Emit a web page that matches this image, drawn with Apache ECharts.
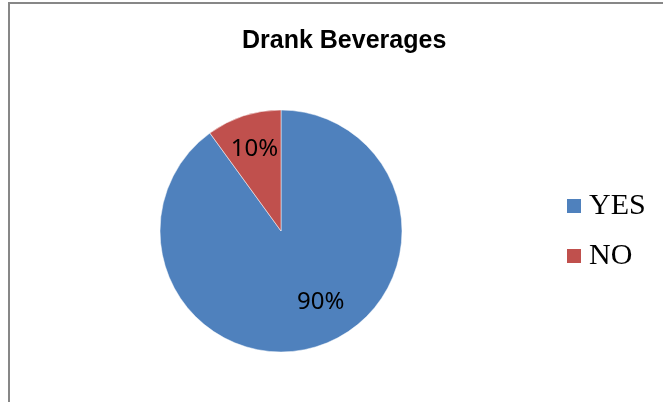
<!DOCTYPE html>
<html>
<head>
<meta charset="utf-8">
<script src="https://cdn.jsdelivr.net/npm/echarts@6/dist/echarts.min.js"></script>
<style>
  html, body { margin: 0; padding: 0; background: #fff; }
  #chart { width: 663px; height: 402px; }
</style>
</head>
<body>
<div id="chart"></div>
<script>
// chart data
const titleText = 'Drank Beverages';
const categories = ['YES', 'NO'];
const values = [90, 10];
const colors = ['#4F81BD', '#C0504D'];
// nudge labels to where excel put them
const labelOffsets = [[20, 11], [-7, -21]];

const myChart = echarts.init(document.getElementById('chart'));

const pieData = categories.map((name, i) => ({
    name: name,
    value: values[i],
    itemStyle: { color: colors[i] },
    label: { offset: labelOffsets[i] }
}));

const option = {
    animation: false,
    backgroundColor: '#fff',
    title: {
        text: titleText,
        left: 242,
        top: 29,
        padding: 0,
        textStyle: {
            fontFamily: 'Liberation Sans',
            fontWeight: 'bold',
            fontSize: 25,
            color: '#000'
        }
    },
    legend: {
        orient: 'vertical',
        left: 565,
        top: 191,
        padding: 0,
        icon: 'rect',
        itemWidth: 16,
        itemHeight: 16,
        itemGap: 20,
        data: categories,
        textStyle: {
            fontFamily: 'Liberation Serif',
            fontSize: 30,
            lineHeight: 30,
            color: '#000',
            padding: [0, 0, 0, 2]
        }
    },
    graphic: [{
        type: 'rect',
        shape: { x: 9, y: 3, width: 700, height: 500 },
        style: { fill: 'none', stroke: '#878787', lineWidth: 2 },
        silent: true
    }],
    series: [{
        type: 'pie',
        center: [281, 231],
        radius: 121,
        startAngle: 90,
        clockwise: true,
        data: pieData,
        itemStyle: { borderColor: '#fff', borderWidth: 0.5 },
        label: {
            show: true,
            position: 'inside',
            formatter: '{d}%',
            fontFamily: 'Noto Sans',
            fontSize: 24,
            color: '#000'
        },
        labelLine: { show: false },
        emphasis: { disabled: true }
    }]
};

myChart.setOption(option);
</script>
</body>
</html>
